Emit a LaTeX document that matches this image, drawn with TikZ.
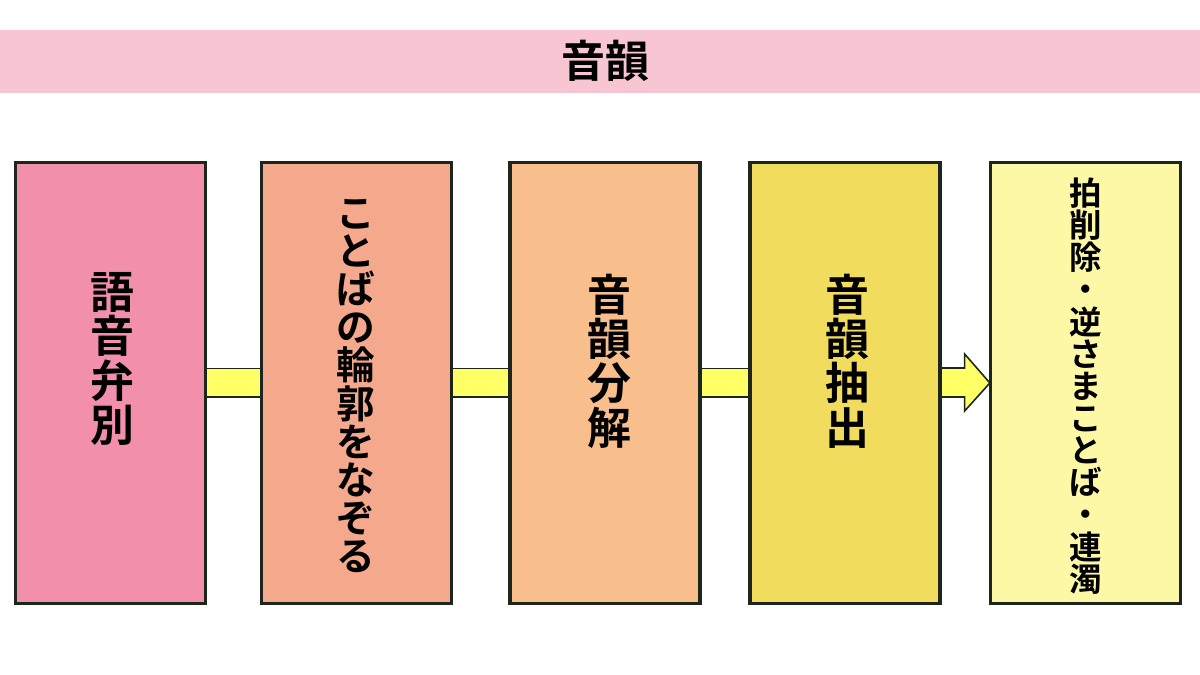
\documentclass[tikz,border=0pt]{standalone}
\usepackage{fontspec}
\newfontfamily\jpfont{Noto Sans CJK JP Bold}
\usetikzlibrary{calc}
\definecolor{bandpink}{HTML}{F8C6D3}
\definecolor{cA}{HTML}{F290AC}
\definecolor{cB}{HTML}{F4A98D}
\definecolor{cC}{HTML}{F8BE8C}
\definecolor{cD}{HTML}{F2DC5E}
\definecolor{cE}{HTML}{FCF8A6}
\definecolor{bar}{HTML}{FFFF66}
\definecolor{edge}{HTML}{1C261C}
\tikzset{
  stagebox/.style={draw=edge, line width=1.3pt, minimum width=3.78cm, minimum height=8.8cm, inner sep=0pt},
  bigtxt/.style={font=\jpfont\fontsize{25}{25.2}\selectfont, align=center, inner sep=0pt},
  midtxt/.style={font=\jpfont\fontsize{22}{21.7}\selectfont, align=center, inner sep=0pt},
  smalltxt/.style={font=\jpfont\fontsize{18.5}{18.3}\selectfont, align=center, inner sep=0pt},
  barstyle/.style={fill=bar, draw=edge, line width=0.9pt},
}
\begin{document}
\begin{tikzpicture}[x=0.02cm,y=-0.02cm]
\useasboundingbox (0,0) rectangle (1200,675);
\fill[white] (0,0) rectangle (1200,675);
% title band
\fill[bandpink] (0,30) rectangle (1200,93);
\node[font=\jpfont\fontsize{25}{25}\selectfont, inner sep=0pt] (title) at (605,61) {音韻};
% boxes
\node[stagebox, fill=cA] (b1) at (110.5,383) {};
\node[stagebox, fill=cB] (b2) at (356.5,383) {};
\node[stagebox, fill=cC] (b3) at (605,383) {};
\node[stagebox, fill=cD] (b4) at (845,383) {};
\node[stagebox, fill=cE] (b5) at (1085.5,383) {};
% connectors
\draw[barstyle] ($(b1.east)+(0,-14.5)$) rectangle ($(b2.west)+(0,14)$);
\draw[barstyle] ($(b2.east)+(0,-14.5)$) rectangle ($(b3.west)+(0,14)$);
\draw[barstyle] ($(b3.east)+(0,-14.5)$) rectangle ($(b4.west)+(0,14)$);
\draw[barstyle, line join=miter] ($(b4.east)+(0,-15)$) -- ($(b4.east)+(24,-15)$) -- ($(b4.east)+(24,-29)$)
  -- (b5.west) -- ($(b4.east)+(24,28)$) -- ($(b4.east)+(24,14)$) -- ($(b4.east)+(0,14)$) -- cycle;
% redraw box borders over bars
\foreach \b in {b1,b2,b3,b4,b5} {\draw[edge, line width=1.3pt] (\b.north west) rectangle (\b.south east);}
% texts
\node[bigtxt] (t1) at (112,359) {語\\音\\弁\\別};
\node[midtxt] (t2) at (356,386) {こ\\と\\ば\\の\\輪\\郭\\を\\な\\ぞ\\る};
\node[bigtxt] (t3) at (609,361) {音\\韻\\分\\解};
\node[bigtxt] (t4) at (847,361) {音\\韻\\抽\\出};
\node[smalltxt] (t5) at (1086,386) {拍\\削\\除\\・\\逆\\さ\\ま\\こ\\と\\ば\\・\\連\\濁};
\end{tikzpicture}
\end{document}
